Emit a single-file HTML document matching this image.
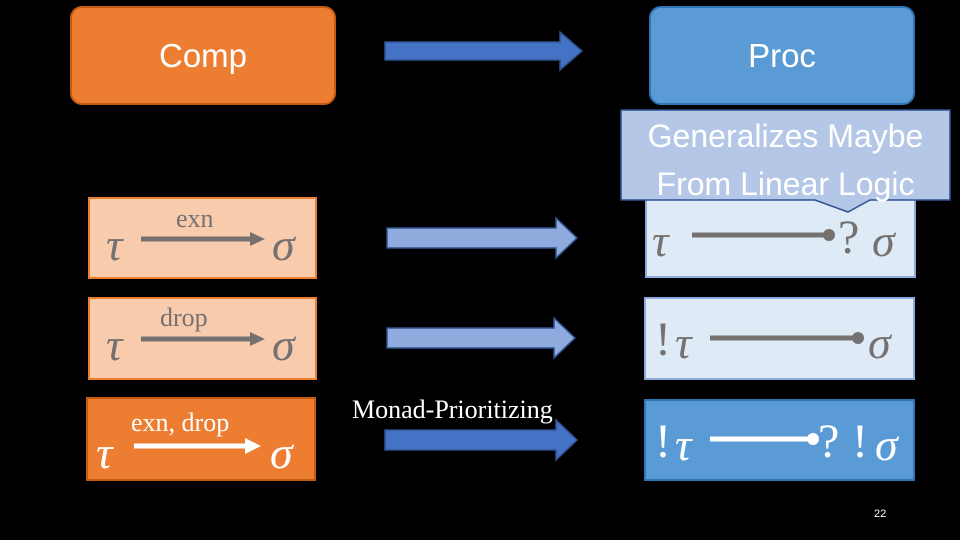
<!DOCTYPE html>
<html><head><meta charset="utf-8"><style>
body{margin:0;background:#000;width:960px;height:540px;overflow:hidden;position:relative;font-family:"Liberation Sans",sans-serif}
.a{position:absolute;box-sizing:border-box}
.g{font-family:"Liberation Serif","DejaVu Serif",serif;font-style:italic;position:absolute;font-size:46px;line-height:1}
.s{font-family:"Liberation Serif",serif;position:absolute;font-size:26px;line-height:1}
</style></head><body>
<div class="a" style="left:70px;top:6px;width:266px;height:99px;background:#ED7D31;border:2px solid #C55A11;border-radius:12px;color:#fff;font-size:33px;text-align:center;line-height:95px">Comp</div>
<div class="a" style="left:649px;top:6px;width:266px;height:99px;background:#5B9BD5;border:2px solid #2E75B6;border-radius:12px;color:#fff;font-size:33px;text-align:center;line-height:95px">Proc</div>

<svg class="a" style="left:0;top:0" width="960" height="540">
<polygon points="385,42 560,42 560,32 582,51 560,70 560,60 385,60" fill="#4472C4" stroke="#2F528F" stroke-width="1.5"/>
<polygon points="387,228 556,228 556,218 577,238 556,258 556,248 387,248" fill="#8FAADC" stroke="#2F528F" stroke-width="1.5"/>
<polygon points="387,328 554,328 554,318 575,338 554,358 554,348 387,348" fill="#8FAADC" stroke="#2F528F" stroke-width="1.5"/>
<polygon points="385,430 556,430 556,420 577,440 556,460 556,450 385,450" fill="#4472C4" stroke="#2F528F" stroke-width="1.5"/>
</svg>

<div class="a" style="left:88px;top:197px;width:229px;height:82px;background:#F8CBAD;border:2px solid #ED7D31"></div>
<div class="a" style="left:88px;top:297px;width:229px;height:83px;background:#F8CBAD;border:2px solid #ED7D31"></div>
<div class="a" style="left:86px;top:397px;width:230px;height:84px;background:#ED7D31;border:2px solid #C55A11"></div>

<div class="a" style="left:645px;top:197px;width:271px;height:81px;background:#DEEBF7;border:2px solid #8FAADC"></div>
<div class="a" style="left:644px;top:297px;width:271px;height:83px;background:#DEEBF7;border:2px solid #8FAADC"></div>
<div class="a" style="left:644px;top:399px;width:271px;height:82px;background:#5B9BD5;border:2px solid #2E75B6"></div>

<svg class="a" style="left:0;top:0" width="960" height="540">
<g stroke="#767171" stroke-width="5" fill="#767171">
<line x1="141" y1="239" x2="252" y2="239"/><polygon points="250,232 265,239 250,246" stroke="none"/>
<line x1="141" y1="339" x2="252" y2="339"/><polygon points="250,332 265,339 250,346" stroke="none"/>
<line x1="692" y1="235" x2="828" y2="235"/><circle cx="829" cy="235" r="6" stroke="none"/>
<line x1="710" y1="338" x2="857" y2="338"/><circle cx="858" cy="338" r="6" stroke="none"/>
</g>
<g stroke="#fff" stroke-width="5" fill="#fff">
<line x1="134" y1="446" x2="247" y2="446"/><polygon points="245,438 261,446 245,454" stroke="none"/>
<line x1="710" y1="439" x2="812" y2="439"/><circle cx="813" cy="439" r="6" stroke="none"/>
</g>
<path d="M621,110 H950 V200 H870 L848,212 L815,200 H621 Z" fill="#B4C7E7" stroke="#2F528F" stroke-width="1.5"/>
</svg>

<div class="g" style="left:106px;top:222px;color:#767171">τ</div>
<div class="g" style="left:272px;top:222px;color:#767171">σ</div>
<div class="s" style="left:176px;top:206px;color:#767171">exn</div>
<div class="g" style="left:106px;top:322px;color:#767171">τ</div>
<div class="g" style="left:272px;top:322px;color:#767171">σ</div>
<div class="s" style="left:160px;top:305px;color:#767171">drop</div>
<div class="g" style="left:96px;top:430px;color:#fff">τ</div>
<div class="g" style="left:270px;top:430px;color:#fff">σ</div>
<div class="s" style="left:131px;top:410px;color:#fff">exn, drop</div>

<div class="s" style="left:352px;top:397px;color:#fff">Monad-Prioritizing</div>

<div class="g" style="left:652px;top:218px;color:#767171">τ</div>
<div class="s" style="left:838px;top:214px;color:#767171;font-size:48px">?</div>
<div class="g" style="left:872px;top:218px;color:#767171">σ</div>
<div class="s" style="left:655px;top:316px;color:#767171;font-size:48px">!</div>
<div class="g" style="left:675px;top:320px;color:#767171">τ</div>
<div class="g" style="left:868px;top:320px;color:#767171">σ</div>
<div class="s" style="left:655px;top:418px;color:#fff;font-size:48px">!</div>
<div class="g" style="left:675px;top:422px;color:#fff">τ</div>
<div class="s" style="left:818px;top:418px;color:#fff;font-size:48px">?</div>
<div class="s" style="left:852px;top:418px;color:#fff;font-size:48px">!</div>
<div class="g" style="left:875px;top:422px;color:#fff">σ</div>

<div class="a" style="left:621px;top:112px;width:329px;text-align:center;color:#fff;font-size:32px;line-height:48px">Generalizes Maybe<br>From Linear Logic</div>
<div class="a" style="left:874px;top:508px;color:#fff;font-size:11px">22</div>
</body></html>
